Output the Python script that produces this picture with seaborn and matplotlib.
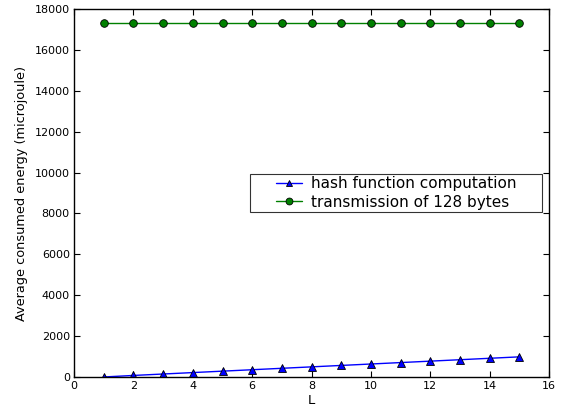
import matplotlib
matplotlib.use("Agg")
import matplotlib.pyplot as plt
from matplotlib.path import Path
import seaborn as sns
import pandas as pd

L = list(range(1, 16))
hash_energy = [0, 75, 145, 215, 285, 355, 425, 495, 565, 635, 705, 775, 845, 915, 985]
tx_energy = [17340] * 15

sns.set_style("ticks", {"xtick.direction": "in", "ytick.direction": "in",
                        "text.color": "black", "axes.labelcolor": "black",
                        "xtick.color": "black", "ytick.color": "black"})
plt.rcParams["font.family"] = ["DejaVu Sans"]

df = pd.DataFrame({
    "L": L + L,
    "energy": hash_energy + tx_energy,
    "series": ["hash function computation"] * 15 + ["transmission of 128 bytes"] * 15,
})


def wide_box(x0, y0, width, height, mutation_size):
    # old-style legend frame: roomy on the sides, tight top/bottom
    px = 1.5 * mutation_size
    xa, xb = x0 - px, x0 + width + px
    ya, yb = y0, y0 + height
    return Path([(xa, ya), (xb, ya), (xb, yb), (xa, yb), (xa, ya)], closed=True)


fig = plt.figure(figsize=(5.65, 4.12), dpi=100)
ax = fig.add_axes([0.131, 0.085, 0.841, 0.893])
ax = sns.lineplot(data=df, x="L", y="energy", hue="series", style="series",
                  palette=["#0000ff", "#008000"], markers=["^", "o"], dashes=False,
                  markersize=5.5, markeredgecolor="black", markeredgewidth=0.6,
                  linewidth=1, ax=ax)
ax.set_xlim(0, 16)
ax.set_ylim(0, 18000)
ax.set_xticks(range(0, 17, 2))
ax.set_yticks(range(0, 18001, 2000))
ax.tick_params(labelsize=8, top=True, right=True, length=4, width=0.8, pad=3,
               colors="black")
ax.set_xlabel("L", fontsize=9.5, labelpad=2)
ax.set_ylabel("Average consumed energy (microjoule)", fontsize=9.3, labelpad=5)
for s in ax.spines.values():
    s.set_visible(True)
    s.set_linewidth(1)
    s.set_color("black")
leg = ax.legend(loc="center right", fontsize=11, frameon=True, fancybox=False,
                borderaxespad=2.0, handlelength=1.7, handletextpad=0.6,
                labelspacing=0.2, borderpad=0.15, markerscale=0.9)
leg.get_frame().set_edgecolor("black")
leg.get_frame().set_linewidth(0.8)
leg.get_frame().set_boxstyle(wide_box)
for t in leg.get_texts():
    t.set_color("black")
fig.savefig("out.png", dpi=100)
